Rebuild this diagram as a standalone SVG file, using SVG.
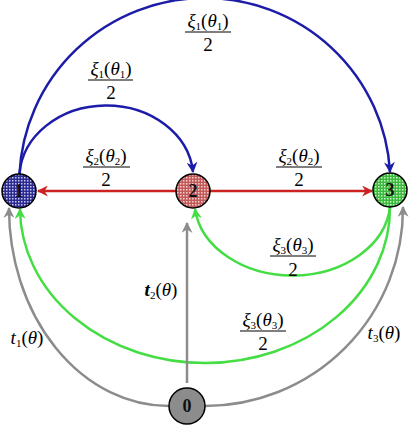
<svg xmlns="http://www.w3.org/2000/svg" width="412" height="427" viewBox="0 0 412 427">
<style>
.e{fill:none;stroke-width:2.5}
.b{stroke:#1c1ca8}
.r{stroke:#cc2222}
.g{stroke:#44dd44}
.k{stroke:#8c8c8c}
.lbl{font-family:"Liberation Serif","Times New Roman",serif;font-size:19px;fill:#000;text-anchor:middle}
.it{font-style:italic}
.sub{font-size:11px}
.fl{stroke:#000;stroke-width:1.2}
.node circle{stroke:#000;stroke-width:1.5}
.num{font-family:"Liberation Serif",serif;font-size:18px;font-weight:bold;text-anchor:middle;fill:#111}
</style>
<defs>
<pattern id="p1" width="3" height="3" patternUnits="userSpaceOnUse"><rect width="3" height="3" fill="#2a2a90"/><rect width="1.5" height="1.5" fill="#c8c8f0"/></pattern>
<pattern id="p2" width="3" height="3" patternUnits="userSpaceOnUse"><rect width="3" height="3" fill="#c25a5a"/><rect width="1.5" height="1.5" fill="#f4d0d0"/></pattern>
<pattern id="p3" width="3" height="3" patternUnits="userSpaceOnUse"><rect width="3" height="3" fill="#3cb83c"/><rect width="1.5" height="1.5" fill="#c8f4c8"/></pattern>
<marker id="ab" viewBox="0 0 10 10" refX="9" refY="5" markerWidth="11" markerHeight="11" markerUnits="userSpaceOnUse" orient="auto"><path d="M0,0 L10,5 L0,10 L3,5 Z" fill="#1c1ca8"/></marker>
<marker id="ar" viewBox="0 0 10 10" refX="9" refY="5" markerWidth="11" markerHeight="11" markerUnits="userSpaceOnUse" orient="auto"><path d="M0,0 L10,5 L0,10 L3,5 Z" fill="#cc2222"/></marker>
<marker id="ag" viewBox="0 0 10 10" refX="9" refY="5" markerWidth="11" markerHeight="11" markerUnits="userSpaceOnUse" orient="auto"><path d="M0,0 L10,5 L0,10 L3,5 Z" fill="#44dd44"/></marker>
<marker id="ak" viewBox="0 0 10 10" refX="9" refY="5" markerWidth="11" markerHeight="11" markerUnits="userSpaceOnUse" orient="auto"><path d="M0,0 L10,5 L0,10 L3,5 Z" fill="#8c8c8c"/></marker>
</defs>
<rect width="412" height="427" fill="#fff"/>
<g id="connectors">
<path class="e b" d="M 19.5 174 A 185.5 184.5 0 0 1 390 172" marker-end="url(#ab)"/>
<path class="e b" d="M 19.5 174 A 87 73 0 0 1 193 172" marker-end="url(#ab)"/>
<line class="e r" x1="176" y1="191" x2="38" y2="191" marker-end="url(#ar)"/>
<line class="e r" x1="210" y1="191" x2="372" y2="191" marker-end="url(#ar)"/>
<path class="e g" d="M 390 207 A 98 75 0 0 1 195 209" marker-end="url(#ag)"/>
<path class="e g" d="M 390 207 A 185 155 0 0 1 20 209" marker-end="url(#ag)"/>
<path class="e k" d="M 169 406 A 160 198 0 0 1 9 208" marker-end="url(#ak)"/>
<path class="e k" d="M 205 406 A 198 198 0 0 0 403 207" marker-end="url(#ak)"/>
<line class="e k" x1="187" y1="383" x2="187" y2="223" marker-end="url(#ak)"/>
</g>
<g id="labels">
<text class="lbl" x="208" y="27"><tspan class="it">ξ</tspan><tspan class="sub" dy="3">1</tspan><tspan dy="-3">(</tspan><tspan class="it">θ</tspan><tspan class="sub" dy="3">1</tspan><tspan dy="-3">)</tspan></text>
<line class="fl" x1="185" y1="32" x2="231" y2="32"/>
<text class="lbl" x="208" y="51">2</text>
<text class="lbl" x="111" y="75"><tspan class="it">ξ</tspan><tspan class="sub" dy="3">1</tspan><tspan dy="-3">(</tspan><tspan class="it">θ</tspan><tspan class="sub" dy="3">1</tspan><tspan dy="-3">)</tspan></text>
<line class="fl" x1="88" y1="80" x2="133" y2="80"/>
<text class="lbl" x="111" y="99">2</text>
<text class="lbl" x="106" y="162"><tspan class="it">ξ</tspan><tspan class="sub" dy="3">2</tspan><tspan dy="-3">(</tspan><tspan class="it">θ</tspan><tspan class="sub" dy="3">2</tspan><tspan dy="-3">)</tspan></text>
<line class="fl" x1="83" y1="167" x2="130" y2="167"/>
<text class="lbl" x="106" y="186">2</text>
<text class="lbl" x="299" y="162"><tspan class="it">ξ</tspan><tspan class="sub" dy="3">2</tspan><tspan dy="-3">(</tspan><tspan class="it">θ</tspan><tspan class="sub" dy="3">2</tspan><tspan dy="-3">)</tspan></text>
<line class="fl" x1="276" y1="167" x2="322" y2="167"/>
<text class="lbl" x="299" y="186">2</text>
<text class="lbl" x="293" y="251"><tspan class="it">ξ</tspan><tspan class="sub" dy="3">3</tspan><tspan dy="-3">(</tspan><tspan class="it">θ</tspan><tspan class="sub" dy="3">3</tspan><tspan dy="-3">)</tspan></text>
<line class="fl" x1="270" y1="256" x2="316" y2="256"/>
<text class="lbl" x="293" y="276">2</text>
<text class="lbl" x="263" y="326"><tspan class="it">ξ</tspan><tspan class="sub" dy="3">3</tspan><tspan dy="-3">(</tspan><tspan class="it">θ</tspan><tspan class="sub" dy="3">3</tspan><tspan dy="-3">)</tspan></text>
<line class="fl" x1="240" y1="331" x2="286" y2="331"/>
<text class="lbl" x="263" y="350">2</text>
<text class="lbl" x="161" y="296"><tspan class="it" font-weight="bold">t</tspan><tspan class="sub" dy="3">2</tspan><tspan dy="-3">(</tspan><tspan class="it">θ</tspan><tspan>)</tspan></text>
<text class="lbl" x="27" y="344"><tspan class="it">t</tspan><tspan class="sub" dy="3">1</tspan><tspan dy="-3">(</tspan><tspan class="it">θ</tspan><tspan>)</tspan></text>
<text class="lbl" x="384" y="339"><tspan class="it">t</tspan><tspan class="sub" dy="3">3</tspan><tspan dy="-3">(</tspan><tspan class="it">θ</tspan><tspan>)</tspan></text>
</g>
<g id="node1" class="node"><circle cx="19" cy="191" r="17" fill="url(#p1)"/><text class="num" x="19" y="197">1</text></g>
<g id="node2" class="node"><circle cx="193" cy="191" r="17" fill="url(#p2)"/><text class="num" x="193" y="197">2</text></g>
<g id="node3" class="node"><circle cx="390" cy="190" r="17" fill="url(#p3)"/><text class="num" x="390" y="196">3</text></g>
<g id="node0" class="node"><circle cx="187" cy="406" r="18" fill="#8c8c8c"/><text class="num" x="187" y="412">0</text></g>
</svg>
